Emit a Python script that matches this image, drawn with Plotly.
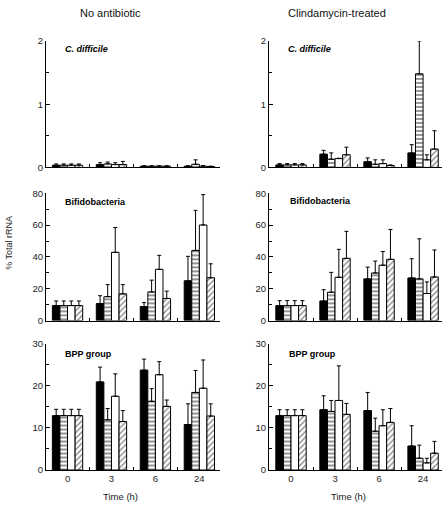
import plotly.graph_objects as go

# ---------------- data ----------------
time_labels = ["0", "3", "6", "24"]
series_names = ["Series A", "Series B", "Series C", "Series D"]

# C. difficile, no antibiotic
cd_no_mean = [[0.035, 0.045, 0.02, 0.02],
              [0.035, 0.055, 0.02, 0.05],
              [0.035, 0.045, 0.02, 0.02],
              [0.035, 0.045, 0.02, 0.015]]
cd_no_sd = [[0.02, 0.03, 0.005, 0.005],
            [0.02, 0.03, 0.005, 0.07],
            [0.02, 0.03, 0.005, 0.01],
            [0.02, 0.05, 0.005, 0.005]]

# C. difficile, clindamycin-treated
cd_cl_mean = [[0.04, 0.21, 0.09, 0.23],
              [0.04, 0.13, 0.05, 1.48],
              [0.04, 0.14, 0.06, 0.12],
              [0.04, 0.20, 0.03, 0.29]]
cd_cl_sd = [[0.02, 0.06, 0.06, 0.13],
            [0.02, 0.10, 0.07, 0.52],
            [0.02, 0.005, 0.06, 0.08],
            [0.02, 0.12, 0.01, 0.29]]

# Bifidobacteria
bif_no_mean = [[9.4, 10.7, 8.8, 25.0],
               [9.4, 15.0, 18.0, 44.1],
               [9.4, 42.9, 32.2, 60.1],
               [9.4, 16.8, 13.9, 26.9]]
bif_no_sd = [[2.9, 4.9, 2.5, 15.4],
             [2.9, 7.6, 7.4, 25.2],
             [2.9, 15.6, 8.8, 19.1],
             [2.9, 5.8, 4.6, 8.8]]
bif_cl_mean = [[9.4, 12.3, 26.2, 26.8],
               [9.4, 17.8, 29.9, 26.2],
               [9.4, 27.2, 34.8, 17.0],
               [9.4, 39.1, 38.5, 27.4]]
bif_cl_sd = [[3.1, 7.1, 7.4, 12.1],
             [3.1, 12.5, 7.5, 25.2],
             [3.1, 17.6, 8.6, 7.3],
             [3.1, 17.0, 18.8, 17.0]]

# BPP group
bpp_no_mean = [[12.9, 20.9, 23.7, 10.8],
               [12.9, 11.9, 16.3, 18.4],
               [12.9, 17.5, 22.6, 19.4],
               [12.9, 11.5, 15.1, 12.8]]
bpp_no_sd = [[1.5, 3.5, 2.6, 4.9],
             [1.5, 2.7, 3.0, 5.2],
             [1.5, 5.3, 3.1, 6.7],
             [1.5, 2.6, 1.5, 2.9]]
bpp_cl_mean = [[12.9, 14.3, 14.1, 5.7],
               [12.9, 13.9, 9.2, 2.8],
               [12.9, 16.5, 10.5, 1.7],
               [12.9, 13.2, 11.3, 4.0]]
bpp_cl_sd = [[1.4, 3.3, 4.3, 4.8],
             [1.4, 2.6, 3.1, 3.1],
             [1.4, 8.2, 3.8, 1.1],
             [1.4, 2.6, 3.3, 2.8]]

panel_titles = ["<b><i>C. difficile</i></b>", "<b>Bifidobacteria</b>", "<b>BPP group</b>"]
column_titles = ["No antibiotic", "Clindamycin-treated"]
y_ranges = [[0, 2], [0, 80], [0, 30]]
y_dticks = [1, 20, 10]

panels = [
    [(cd_no_mean, cd_no_sd), (cd_cl_mean, cd_cl_sd)],
    [(bif_no_mean, bif_no_sd), (bif_cl_mean, bif_cl_sd)],
    [(bpp_no_mean, bpp_no_sd), (bpp_cl_mean, bpp_cl_sd)],
]

# ---------------- layout geometry (pixels) ----------------
W, H = 444, 508
col_x = [(46, 220), (269, 442)]
row_y = [(35.7, 165), (191.5, 321.5), (345, 474.3)]
x_ranges = [[-0.49, 3.47], [-0.5, 3.43]]

FONT = "Arial, Liberation Sans, sans-serif"

def px_x(p):
    return p / W

def px_y(p):
    return 1 - p / H

styles = [
    dict(color="black", line=dict(color="black", width=1)),
    dict(color="white", line=dict(color="black", width=1),
         pattern=dict(shape="-", fgcolor="black", bgcolor="white", size=4, solidity=0.42)),
    dict(color="white", line=dict(color="black", width=1)),
    dict(color="white", line=dict(color="black", width=1),
         pattern=dict(shape="/", fgcolor="black", bgcolor="white", size=4, solidity=0.3)),
]

fig = go.Figure()
xs = [0, 1, 2, 3]

for r in range(3):
    for c in range(2):
        idx = r * 2 + c + 1
        suffix = "" if idx == 1 else str(idx)
        means, sds = panels[r][c]
        for s in range(4):
            fig.add_trace(go.Bar(
                x=xs, y=means[s], name=series_names[s],
                xaxis="x" + suffix, yaxis="y" + suffix,
                marker=styles[s],
                error_y=dict(type="data", symmetric=False, array=sds[s],
                             arrayminus=[0, 0, 0, 0], color="black",
                             thickness=1, width=2),
                showlegend=False, hoverinfo="skip",
            ))
        x0, x1 = col_x[c]
        y0, y1 = row_y[r]
        xa = dict(
            domain=[px_x(x0), px_x(x1)], range=x_ranges[c],
            anchor="y" + suffix, showline=True, linecolor="black", linewidth=1,
            showgrid=False, zeroline=False,
            tickmode="array", tickvals=xs, ticktext=time_labels,
            ticks="", showticklabels=(r == 2),
            tickfont=dict(family=FONT, size=9.5, color="#222"),
            minor=dict(tickmode="array", tickvals=[0.5, 1.5, 2.5], ticks="inside",
                       ticklen=3, tickcolor="black", tickwidth=1, showgrid=False),
        )
        ya = dict(
            domain=[px_y(y1), px_y(y0)], range=y_ranges[r],
            anchor="x" + suffix, showline=True, linecolor="black", linewidth=1,
            showgrid=False, zeroline=False,
            tickmode="linear", tick0=0, dtick=y_dticks[r],
            ticks="inside", ticklen=4, tickcolor="black", tickwidth=1,
            tickfont=dict(family=FONT, size=9.5, color="#222"),
            minor=dict(tickmode="linear", tick0=0, dtick=y_dticks[r] / 2, ticks="inside",
                       ticklen=2.5, tickcolor="black", tickwidth=1, showgrid=False),
        )
        fig.layout["xaxis" + suffix] = xa
        fig.layout["yaxis" + suffix] = ya

annotations = []
label_pos = [[(63, 44), (286, 44)], [(63, 200), (288, 199)], [(63, 356), (287, 356)]]
for r in range(3):
    for c in range(2):
        lx, ly = label_pos[r][c]
        annotations.append(dict(
            x=px_x(lx), y=px_y(ly), xref="paper", yref="paper",
            text=panel_titles[r], showarrow=False, xanchor="left", yanchor="middle",
            font=dict(family=FONT, size=9, color="black")))

for c, cx in enumerate([110, 337]):
    annotations.append(dict(
        x=px_x(cx), y=px_y(7), xref="paper", yref="paper",
        text=column_titles[c], showarrow=False, xanchor="center", yanchor="middle",
        font=dict(family=FONT, size=11, color="#111")))

for cx in [120, 348]:
    annotations.append(dict(
        x=px_x(cx), y=px_y(501), xref="paper", yref="paper",
        text="Time (h)", showarrow=False, xanchor="center", yanchor="middle",
        font=dict(family=FONT, size=9.5, color="#222")))

annotations.append(dict(
    x=px_x(9), y=px_y(242), xref="paper", yref="paper",
    text="% Total rRNA", showarrow=False, textangle=-90,
    xanchor="center", yanchor="middle",
    font=dict(family=FONT, size=9, color="#222")))

fig.update_layout(
    width=W, height=H,
    margin=dict(l=0, r=0, t=0, b=0),
    paper_bgcolor="white", plot_bgcolor="white",
    barmode="group", bargap=0.31, bargroupgap=0,
    annotations=annotations,
    showlegend=False,
    hovermode=False,
)

fig.write_html("out.html",
               config={"displayModeBar": False},
               post_script="document.body.style.margin='0';document.body.style.overflow='hidden';")
